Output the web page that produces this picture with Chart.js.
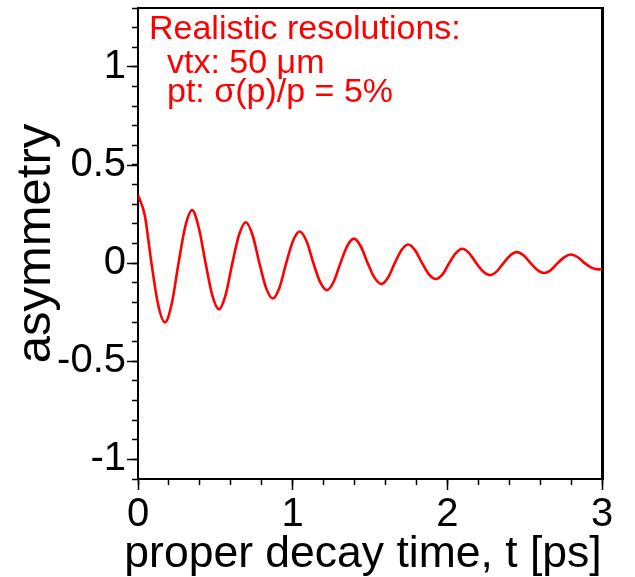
<!DOCTYPE html>
<html><head><meta charset="utf-8">
<script src="https://cdn.jsdelivr.net/npm/chart.js@4.4.1/dist/chart.umd.min.js"></script>
<style>html,body{margin:0;padding:0;background:#fff;overflow:hidden}</style>
</head><body>
<canvas id="c" width="635" height="577"></canvas>
<script>
// ---- data ----
const times = [
  0.000, 0.044, 0.087, 0.131, 0.174, 0.218, 0.262, 0.306, 0.350, 0.393,
  0.437, 0.480, 0.523, 0.567, 0.610, 0.654, 0.697, 0.741, 0.785, 0.828,
  0.872, 0.915, 0.958, 1.002, 1.045, 1.090, 1.134, 1.178, 1.222, 1.265,
  1.309, 1.353, 1.396, 1.440, 1.485, 1.529, 1.573, 1.617, 1.660, 1.704,
  1.747, 1.792, 1.837, 1.881, 1.926, 1.970, 2.012, 2.055, 2.097, 2.142,
  2.187, 2.232, 2.277, 2.320, 2.363, 2.406, 2.449, 2.494, 2.538, 2.582,
  2.626, 2.670, 2.713, 2.757, 2.800, 2.844, 2.888, 2.932, 2.975, 3.000
];
const asymmetry = [
  0.347, 0.243, 0.000, -0.215, -0.302, -0.207, 0.000, 0.188, 0.270, 0.180,
  0.000, -0.163, -0.235, -0.160, 0.000, 0.146, 0.208, 0.142, 0.000, -0.126,
  -0.180, -0.124, 0.000, 0.113, 0.161, 0.111, 0.000, -0.097, -0.138, -0.095,
  0.000, 0.088, 0.125, 0.086, 0.000, -0.074, -0.106, -0.073, 0.000, 0.067,
  0.095, 0.065, 0.000, -0.057, -0.081, -0.056, 0.000, 0.051, 0.073, 0.050,
  0.000, -0.043, -0.061, -0.042, 0.000, 0.039, 0.056, 0.039, 0.000, -0.035,
  -0.050, -0.035, 0.000, 0.031, 0.044, 0.030, 0.000, -0.023, -0.032, -0.030
];
const xMajorTicks = [0, 1, 2, 3];
const yMajorTicks = [-1, -0.5, 0, 0.5, 1];
const xRange = [0, 3];
const yRange = [-1.1, 1.3];
const xMinorStep = 0.2;
const yMinorStep = 0.1;
const xTitle = 'proper decay time, t [ps]';
const yTitle = 'asymmetry';
const noteLines = ['Realistic resolutions:', 'vtx: 50 \u03bcm', 'pt: \u03c3(p)/p = 5%'];

// ---- chart ----
const FONT = '"Liberation Sans", Arial, Helvetica, sans-serif';
Chart.defaults.font.family = FONT;
Chart.defaults.color = '#000';

const points = times.map((t, i) => ({x: t, y: asymmetry[i]}));

const textPlugin = {
  id: 'texts',
  afterDraw(chart) {
    const ctx = chart.ctx, a = chart.chartArea;
    ctx.save();
    // red annotation
    ctx.fillStyle = '#ff0000';
    ctx.font = '34px ' + FONT;
    ctx.textBaseline = 'alphabetic';
    ctx.textAlign = 'left';
    const offs = [[11, 31], [29, 65], [29, 94]];
    noteLines.forEach((s, i) => ctx.fillText(s, a.left + offs[i][0], a.top + offs[i][1]));
    // x axis title (drawn without width compression)
    ctx.fillStyle = '#000';
    ctx.font = '44.5px ' + FONT;
    ctx.textAlign = 'center';
    ctx.fillText(xTitle, (a.left + a.right) / 2 - 7, chart.height - 10);
    ctx.restore();
  }
};

const tickGrid = (len) => ({display: true, drawOnChartArea: false, drawTicks: true,
  tickLength: len, tickWidth: 1.5, tickColor: '#000'});
const noPad = s => { s.paddingTop = 0; s.paddingBottom = 0; s.paddingLeft = 0; s.paddingRight = 0; };

new Chart(document.getElementById('c'), {
  type: 'line',
  data: {
    datasets: [{
      data: points,
      borderColor: '#ff0000',
      borderWidth: 2.6,
      pointRadius: 0,
      fill: false,
      cubicInterpolationMode: 'monotone',
      xAxisID: 'x',
      yAxisID: 'y'
    }]
  },
  options: {
    responsive: false,
    devicePixelRatio: 1,
    animation: false,
    layout: {padding: {left: 0, right: 33, top: 8, bottom: 0}},
    plugins: {legend: {display: false}, tooltip: {enabled: false}},
    scales: {
      x: {
        type: 'linear', position: 'bottom', min: xRange[0], max: xRange[1], weight: 1, display: true,
        afterBuildTicks: s => { s.ticks = xMajorTicks.map(v => ({value: v})); },
        ticks: {font: {size: 40}, padding: 1, color: '#000', maxRotation: 0, autoSkip: false,
                callback: v => String(v)},
        grid: tickGrid(11),
        border: {display: true, color: '#000', width: 2},
        title: {display: false},
        afterFit: s => { s.height = 98; noPad(s); }
      },
      xMinor: {
        type: 'linear', position: 'bottom', min: xRange[0], max: xRange[1], weight: 0, display: true,
        ticks: {display: false, stepSize: xMinorStep},
        grid: tickGrid(6),
        border: {display: false},
        afterFit: s => { s.height = 0; noPad(s); }
      },
      xTop: {
        type: 'linear', position: 'top', min: xRange[0], max: xRange[1], display: true,
        ticks: {display: false}, grid: {display: false},
        border: {display: true, color: '#000', width: 2},
        afterFit: s => { s.height = 0; noPad(s); }
      },
      y: {
        type: 'linear', position: 'left', min: yRange[0], max: yRange[1], weight: 1, display: true,
        afterBuildTicks: s => { s.ticks = yMajorTicks.map(v => ({value: v})); },
        ticks: {font: {size: 40}, padding: 1, color: '#000', autoSkip: false,
                callback: v => String(v)},
        grid: tickGrid(11),
        border: {display: true, color: '#000', width: 2},
        title: {display: true, text: yTitle, color: '#000',
                font: {size: 49, lineHeight: 1}, padding: {top: 12, bottom: 0}},
        afterFit: s => { s.width = 138; noPad(s); }
      },
      yMinor: {
        type: 'linear', position: 'left', min: yRange[0], max: yRange[1], weight: 0, display: true,
        ticks: {display: false, stepSize: yMinorStep},
        grid: tickGrid(6),
        border: {display: false},
        afterFit: s => { s.width = 0; noPad(s); }
      },
      yRight: {
        type: 'linear', position: 'right', min: yRange[0], max: yRange[1], display: true,
        ticks: {display: false}, grid: {display: false},
        border: {display: true, color: '#000', width: 3},
        afterFit: s => { s.width = 0; noPad(s); }
      }
    }
  },
  plugins: [textPlugin]
});
</script>
</body></html>
